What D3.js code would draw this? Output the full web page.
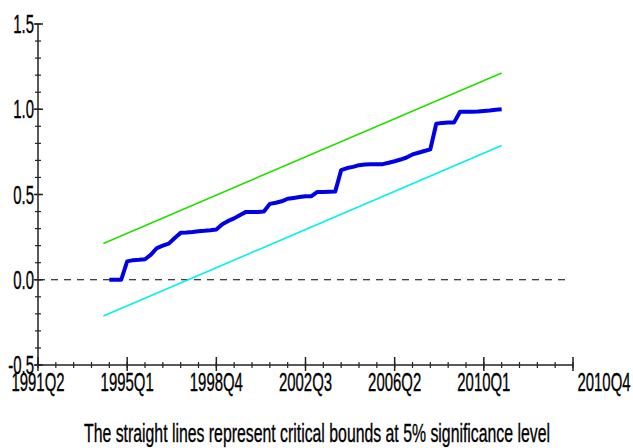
<!DOCTYPE html>
<html>
<head>
<meta charset="utf-8">
<script src="https://cdn.jsdelivr.net/npm/d3@7/dist/d3.min.js"></script>
<style>
html,body{margin:0;padding:0;background:#fff;}
svg{display:block;}
text{font-family:"Liberation Sans",Arial,sans-serif;fill:#000;stroke:#000;stroke-width:0.35px;}
</style>
</head>
<body>
<svg id="chart" width="633" height="448"></svg>
<script>
// ---- data ----
const axisStart = "1991Q2";                 // first period on the x axis
const axisQuarters = 90;                    // length of the x axis in quarters
const xTickLabels = ["1991Q2","1995Q1","1998Q4","2002Q3","2006Q2","2010Q1"];
const xEndLabel = "2010Q4";
const yTickValues = [-0.5, 0.0, 0.5, 1.0, 1.5];
const yTickLabels = ["-0.5","0.0","0.5","1.0","1.5"];
const cusumsqStart = "1994Q2";
const cusumsq = [
  0, 0, 0, 0.108, 0.115, 0.117, 0.12, 0.147, 0.186, 0.20,
  0.212, 0.245, 0.275, 0.277, 0.28, 0.285, 0.287, 0.29, 0.295, 0.325,
  0.345, 0.36, 0.38, 0.398, 0.398, 0.398, 0.40, 0.445, 0.452, 0.46,
  0.475, 0.48, 0.485, 0.49, 0.49, 0.515, 0.515, 0.516, 0.517, 0.643,
  0.655, 0.662, 0.672, 0.676, 0.677, 0.677, 0.678, 0.686, 0.695, 0.705,
  0.717, 0.735, 0.745, 0.755, 0.765, 0.915, 0.92, 0.922, 0.923, 0.985,
  0.986, 0.986, 0.987, 0.99, 0.993, 0.997, 1.0
];
const boundPeriods = ["1994Q1","2010Q4"];
const upperBound = [0.213, 1.213];
const lowerBound = [-0.213, 0.787];
const caption = "The straight lines represent critical bounds at 5% significance level";

// ---- helpers ----
function qIndex(s){
  const y = +s.slice(0,4), q = +s.slice(5);
  const y0 = +axisStart.slice(0,4), q0 = +axisStart.slice(5);
  return (y - y0) * 4 + (q - q0);
}

const svg = d3.select("#chart");
const x = d3.scaleLinear().domain([0, axisQuarters]).range([38, 573]);
const y = d3.scaleLinear().domain([-0.5, 1.5]).range([365, 24]);

const FS = 25.5, K = 0.585;
function squeeze(sel, k){
  sel.each(function(){
    const L = this.getComputedTextLength();
    d3.select(this).attr("textLength", L * k).attr("lengthAdjust", "spacingAndGlyphs");
  });
}

// dashed zero line
svg.append("line")
  .attr("x1", x(0)).attr("x2", x(axisQuarters) - 8)
  .attr("y1", y(0)).attr("y2", y(0))
  .attr("stroke", "#000").attr("stroke-width", 1)
  .attr("stroke-dasharray", "7,6");

// bounds
const line = d3.line().x(d => x(d[0])).y(d => y(d[1]));
svg.append("path")
  .datum(boundPeriods.map((p,i) => [qIndex(p), upperBound[i]]))
  .attr("d", line).attr("fill","none").attr("stroke","#22e000").attr("stroke-width",1.6);
svg.append("path")
  .datum(boundPeriods.map((p,i) => [qIndex(p), lowerBound[i]]))
  .attr("d", line).attr("fill","none").attr("stroke","#00f0f0").attr("stroke-width",1.6);

// cusum of squares
const s0 = qIndex(cusumsqStart);
svg.append("path")
  .datum(cusumsq.map((v,i) => [s0 + i, v]))
  .attr("d", line).attr("fill","none").attr("stroke","#0000e8")
  .attr("stroke-width",4).attr("stroke-linejoin","round");

// y axis
const yAxis = svg.append("g").attr("transform", `translate(${x(0)},0)`);
yAxis.append("line").attr("x1",0).attr("x2",0).attr("y1",y(1.5)).attr("y2",y(-0.5))
  .attr("stroke","#222").attr("stroke-width",1.5);
const yMinor = d3.range(-5, 16).map(i => i / 10);
yAxis.selectAll("line.minor").data(yMinor).join("line").attr("class","minor")
  .attr("x1",-3).attr("x2",3).attr("y1",d=>y(d)).attr("y2",d=>y(d))
  .attr("stroke","#222").attr("stroke-width",1.2);
yAxis.selectAll("line.major").data(yTickValues).join("line").attr("class","major")
  .attr("x1",-4).attr("x2",5).attr("y1",d=>y(d)).attr("y2",d=>y(d))
  .attr("stroke","#222").attr("stroke-width",1.5);
const yl = yAxis.selectAll("text").data(yTickValues).join("text")
  .attr("x",-4).attr("y",d=>y(d) + 9)
  .attr("text-anchor","end").attr("font-size",FS)
  .text((d,i)=>yTickLabels[i]);
squeeze(yl, K);

// x axis
const xAxis = svg.append("g").attr("transform", `translate(0,${y(-0.5)})`);
xAxis.append("line").attr("x1",x(0)).attr("x2",x(axisQuarters)).attr("y1",0).attr("y2",0)
  .attr("stroke","#222").attr("stroke-width",1.5);
const xMinor = d3.range(0, axisQuarters + 1, 3);
xAxis.selectAll("line.minor").data(xMinor).join("line").attr("class","minor")
  .attr("x1",d=>x(d)).attr("x2",d=>x(d)).attr("y1",-3).attr("y2",3)
  .attr("stroke","#222").attr("stroke-width",1.2);
const xMajor = d3.range(0, axisQuarters + 1, 15);
xAxis.selectAll("line.major").data(xMajor).join("line").attr("class","major")
  .attr("x1",d=>x(d)).attr("x2",d=>x(d)).attr("y1",-8).attr("y2",6)
  .attr("stroke","#222").attr("stroke-width",1.5);
const xl = xAxis.selectAll("text.tl").data(xTickLabels).join("text").attr("class","tl")
  .attr("x",d=>x(qIndex(d))).attr("y",25.5)
  .attr("text-anchor","middle").attr("font-size",FS)
  .text(d=>d);
squeeze(xl, K);
const xe = xAxis.append("text")
  .attr("x", x(axisQuarters) + 31).attr("y",25.5)
  .attr("text-anchor","middle").attr("font-size",FS)
  .text(xEndLabel);
squeeze(xe, K);

// caption
const cap = svg.append("text")
  .attr("x", 317).attr("y", 441.5)
  .attr("text-anchor","middle").attr("font-size",FS)
  .text(caption);
cap.attr("textLength", 466).attr("lengthAdjust","spacingAndGlyphs");
</script>
</body>
</html>
